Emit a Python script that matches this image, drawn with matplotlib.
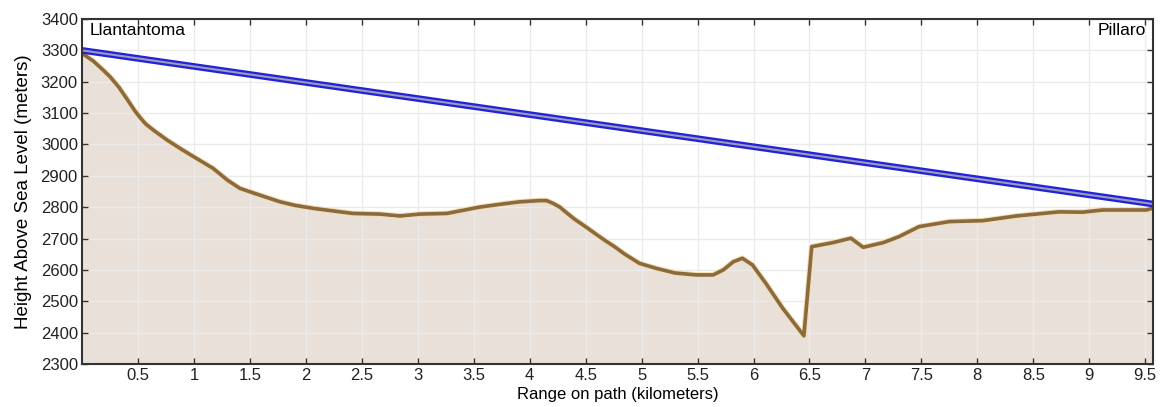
import numpy as np
import matplotlib
matplotlib.use('Agg')
import matplotlib.pyplot as plt

#================================================================
# Du lieu: mat cat dia hinh doc theo duong truyen
#================================================================
khoang_cach_km = [0.0, 0.01, 0.10, 0.18, 0.25, 0.33, 0.42, 0.47, 0.52, 0.57,
                  0.64, 0.76, 0.90, 1.02, 1.17, 1.30, 1.41, 1.55, 1.77, 1.90,
                  2.07, 2.20, 2.42, 2.66, 2.84, 3.02, 3.26, 3.55, 3.73, 3.91,
                  4.09, 4.15, 4.21, 4.27, 4.33, 4.40, 4.51, 4.60, 4.68, 4.75,
                  4.85, 4.98, 5.13, 5.30, 5.49, 5.64, 5.73, 5.82, 5.90, 5.99,
                  6.11, 6.26, 6.45, 6.52, 6.71, 6.87, 6.98, 7.16, 7.30, 7.48,
                  7.75, 8.05, 8.35, 8.73, 8.94, 9.12, 9.51, 9.57]
do_cao_m = [3292, 3288, 3266, 3240, 3216, 3182, 3135, 3108, 3085, 3065,
            3045, 3014, 2982, 2956, 2924, 2886, 2860, 2843, 2817, 2806,
            2796, 2790, 2780, 2778, 2772, 2778, 2780, 2800, 2809, 2817,
            2821, 2821, 2812, 2800, 2782, 2762, 2735, 2712, 2692, 2676,
            2650, 2621, 2605, 2590, 2584, 2584, 2600, 2626, 2637, 2616,
            2557, 2478, 2390, 2674, 2687, 2701, 2672, 2687, 2706, 2738,
            2754, 2757, 2772, 2785, 2784, 2791, 2791, 2797]

# Duong nhin thang giua hai tram
tia_km = [0.0, 9.57]
tia_m = [3300, 2810]

ten_tram = ['Llantantoma', 'Pillaro']
xticks = [0.5, 1, 1.5, 2, 2.5, 3, 3.5, 4, 4.5, 5, 5.5, 6, 6.5, 7, 7.5, 8,
          8.5, 9, 9.5]
yticks = list(range(2300, 3401, 100))

plt.rcParams['font.family'] = ['Liberation Sans', 'DejaVu Sans']

fig = plt.figure(figsize=(11.62, 4.07), dpi=100)
ax = fig.add_axes([0.0706, 0.1057, 0.9217, 0.8476])

# Vung dia hinh
ax.fill_between(khoang_cach_km, do_cao_m, 2300, color='#e9e1d9', zorder=1)
ax.grid(True, color='#ebebeb', linewidth=1.0, zorder=2)
ax.plot(khoang_cach_km, do_cao_m, color='#f3dcae', linewidth=4.0, zorder=3,
        solid_joinstyle='round')
ax.plot(khoang_cach_km, do_cao_m, color='#8a6a3e', linewidth=2.6, zorder=4,
        solid_joinstyle='round')

# Tia nhin thang
ax.plot(tia_km, tia_m, color='#2222dc', linewidth=4.8, zorder=5)
ax.plot(tia_km, tia_m, color='#9d9bb5', linewidth=1.5, zorder=6)

ax.text(0.07, 3362, ten_tram[0], fontsize=12.5, va='center', ha='left', zorder=7)
ax.text(9.51, 3362, ten_tram[1], fontsize=12.5, va='center', ha='right', zorder=7)

ax.set_xlim(0, 9.57)
ax.set_ylim(2300, 3400)
ax.set_xticks(xticks)
ax.set_xticklabels([('%g' % t) for t in xticks])
ax.set_yticks(yticks)
ax.tick_params(direction='in', length=4, width=1, colors='#333333',
               labelsize=12, top=True, right=True, labelcolor='#222222',
               pad=3)
ax.set_axisbelow(False)
for s in ax.spines.values():
    s.set_color('#333333')
    s.set_linewidth(1.5)
    s.set_zorder(8)

ax.set_xlabel('Range on path (kilometers)', fontsize=12, labelpad=3)
ax.set_ylabel('Height Above Sea Level (meters)', fontsize=13.5, labelpad=6)

fig.savefig('out.png', dpi=100)
